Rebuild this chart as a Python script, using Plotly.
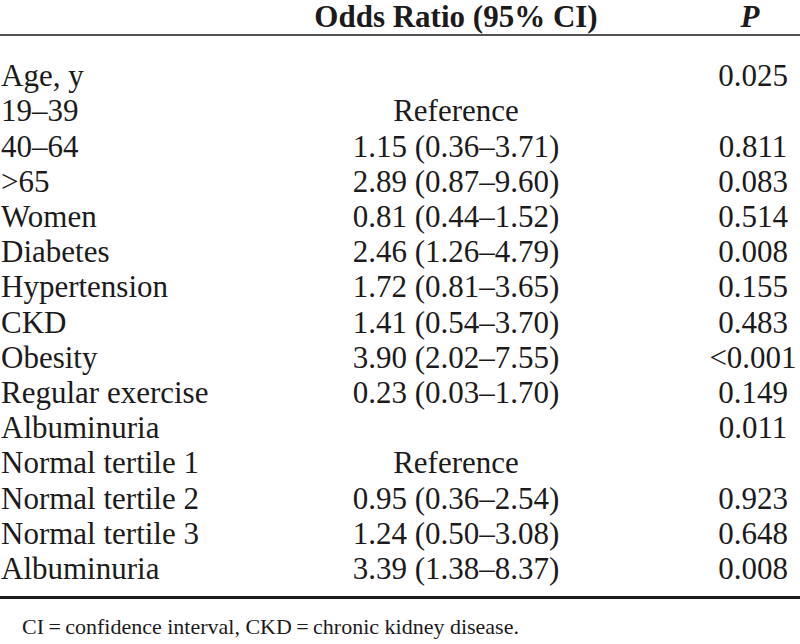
import plotly.graph_objects as go

# ---- data ----
row_labels = ["Age, y", "19–39", "40–64", ">65", "Women", "Diabetes", "Hypertension",
              "CKD", "Obesity", "Regular exercise", "Albuminuria", "Normal tertile 1",
              "Normal tertile 2", "Normal tertile 3", "Albuminuria"]
odds_ratio = [None, "ref", 1.15, 2.89, 0.81, 2.46, 1.72, 1.41, 3.90, 0.23, None, "ref", 0.95, 1.24, 3.39]
ci_low = [None, None, 0.36, 0.87, 0.44, 1.26, 0.81, 0.54, 2.02, 0.03, None, None, 0.36, 0.50, 1.38]
ci_high = [None, None, 3.71, 9.60, 1.52, 4.79, 3.65, 3.70, 7.55, 1.70, None, None, 2.54, 3.08, 8.37]
p_values = ["0.025", "", "0.811", "0.083", "0.514", "0.008", "0.155", "0.483", "<0.001",
            "0.149", "0.011", "", "0.923", "0.648", "0.008"]
headers = ["Odds Ratio (95% CI)", "<i>P</i>"]
footnote = "CI\u2009=\u2009confidence interval, CKD\u2009=\u2009chronic kidney disease."

def fmt(o, lo, hi):
    if o is None:
        return ""
    if o == "ref":
        return "Reference"
    return f"{o:.2f} ({lo:.2f}–{hi:.2f})"

or_text = [fmt(o, l, h) for o, l, h in zip(odds_ratio, ci_low, ci_high)]
rows = list(range(len(row_labels)))

INK = "#1c1a1b"
FONT = "Liberation Serif"
BODY = 31

X_LABEL, X_OR, X_P = 1, 456, 753
ROW0, STEP = 78.5, 35.2  # pixel centre of first row, row pitch
def to_idx(px):
    return (px - ROW0) / STEP

common = dict(mode="text", hoverinfo="skip", cliponaxis=False)
fig = go.Figure()
fig.add_trace(go.Scatter(x=[X_LABEL] * len(rows), y=rows, text=row_labels,
                         textposition="middle right",
                         textfont=dict(family=FONT, size=BODY, color=INK), **common))
fig.add_trace(go.Scatter(x=[X_OR] * len(rows), y=rows, text=or_text,
                         textposition="middle center",
                         textfont=dict(family=FONT, size=BODY, color=INK), **common))
fig.add_trace(go.Scatter(x=[X_P] * len(rows), y=rows, text=p_values,
                         textposition="middle center",
                         textfont=dict(family=FONT, size=BODY, color=INK), **common))
fig.add_trace(go.Scatter(x=[X_OR, X_P - 3], y=[to_idx(19)] * 2, text=headers,
                         textposition="middle center",
                         textfont=dict(family=FONT, size=BODY, color=INK, weight="bold"),
                         **common))
fig.add_trace(go.Scatter(x=[22], y=[to_idx(628.5)], text=[footnote],
                         textposition="middle right",
                         textfont=dict(family=FONT, size=22, color=INK), **common))

fig.add_shape(type="line", xref="paper", x0=0, x1=1, yref="y", y0=to_idx(35), y1=to_idx(35),
              line=dict(color=INK, width=1.5))
fig.add_shape(type="line", xref="paper", x0=0, x1=1, yref="y", y0=to_idx(597.5), y1=to_idx(597.5),
              line=dict(color=INK, width=3))

fig.update_layout(
    width=800, height=644, margin=dict(l=0, r=0, t=0, b=0),
    paper_bgcolor="white", plot_bgcolor="white", showlegend=False,
    xaxis=dict(range=[0, 800], visible=False, fixedrange=True),
    yaxis=dict(range=[to_idx(644), to_idx(0)], visible=False, fixedrange=True),
)
fig.write_html("out.html", config={"displayModeBar": False},
               post_script="document.body.style.margin='0';document.body.style.overflow='hidden';")
